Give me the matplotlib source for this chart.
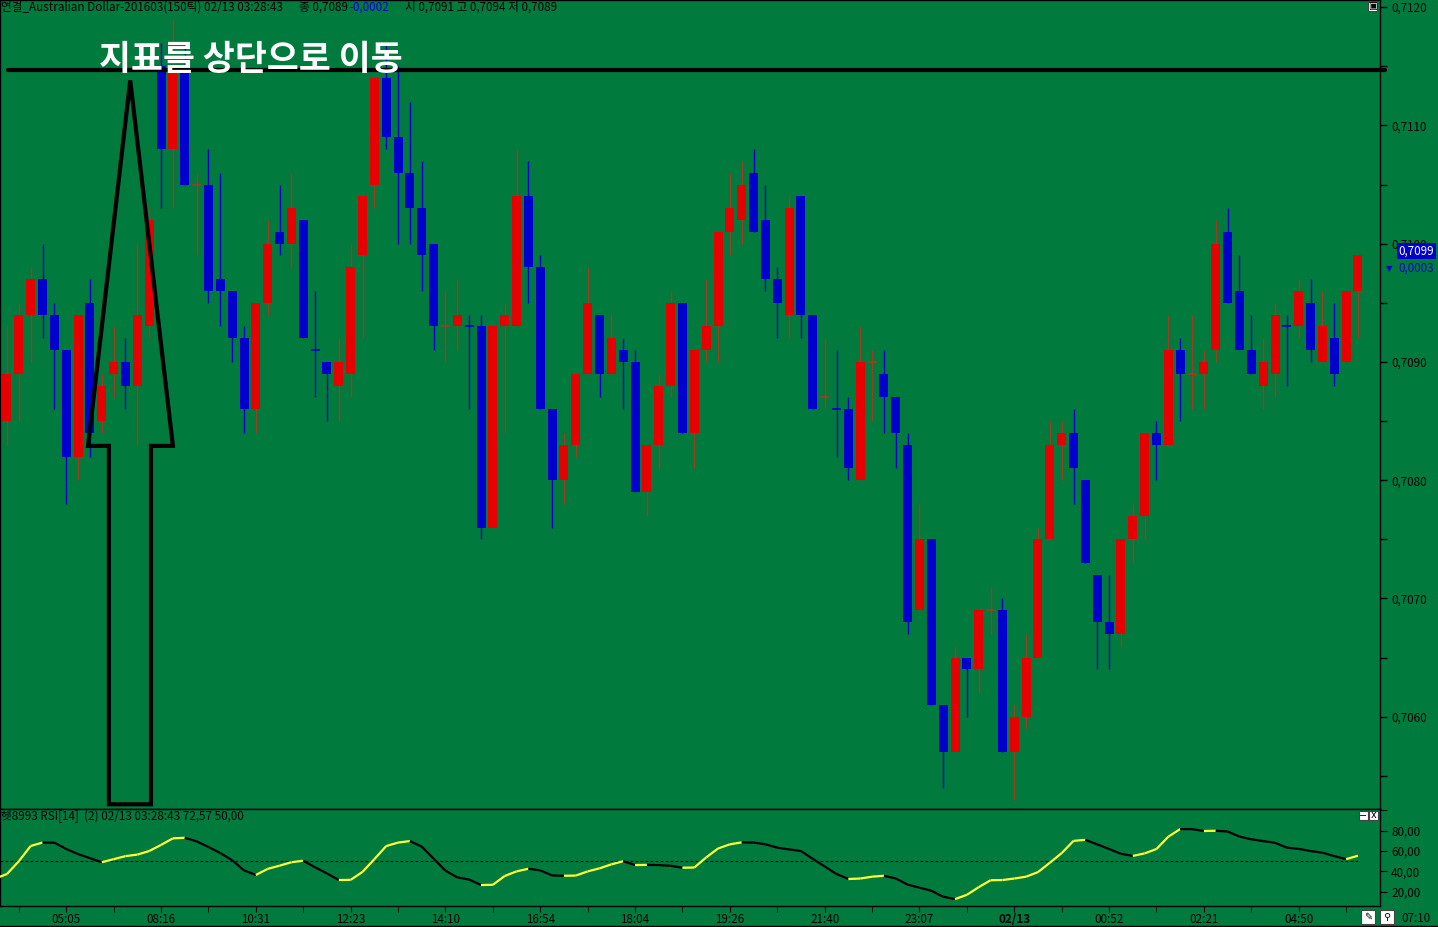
import numpy as np
import matplotlib
matplotlib.use("Agg")
import matplotlib.pyplot as plt
from matplotlib.collections import LineCollection
from matplotlib.patches import Polygon, Rectangle
from matplotlib.ticker import FuncFormatter, MultipleLocator, FixedLocator

plt.rcParams['font.family'] = ['Noto Sans CJK KR', 'DejaVu Sans']
FS = 8.4

# 150-tick AUD candles, prices in pips (0.0001)
opens = [7085, 7089, 7094, 7097, 7094, 7091, 7082, 7095, 7085, 7089,
         7090, 7088, 7093, 7115, 7108, 7115, 7105, 7105, 7097, 7096,
         7092, 7086, 7095, 7101, 7100, 7102, 7091, 7090, 7088, 7089,
         7099, 7105, 7114, 7109, 7106, 7103, 7100, 7093, 7093, 7093,
         7093, 7076, 7093, 7093, 7104, 7098, 7086, 7080, 7083, 7089,
         7094, 7089, 7091, 7090, 7079, 7083, 7088, 7095, 7084, 7091,
         7093, 7101, 7102, 7106, 7102, 7097, 7094, 7104, 7094, 7087,
         7086, 7086, 7080, 7090, 7089, 7087, 7083, 7069, 7075, 7061,
         7057, 7065, 7064, 7069, 7069, 7057, 7060, 7065, 7075, 7083,
         7084, 7080, 7072, 7068, 7067, 7075, 7077, 7084, 7083, 7091,
         7089, 7089, 7091, 7101, 7096, 7091, 7088, 7089, 7093, 7093,
         7095, 7090, 7092, 7090, 7096]
highs = [7093, 7095, 7098, 7100, 7095, 7091, 7094, 7097, 7089, 7093,
         7092, 7100, 7103, 7117, 7119, 7117, 7106, 7108, 7106, 7096,
         7093, 7095, 7102, 7105, 7106, 7102, 7096, 7090, 7092, 7100,
         7104, 7114, 7117, 7115, 7112, 7107, 7100, 7096, 7097, 7094,
         7094, 7093, 7095, 7108, 7107, 7099, 7086, 7084, 7089, 7098,
         7094, 7094, 7092, 7091, 7083, 7089, 7096, 7095, 7091, 7097,
         7101, 7106, 7107, 7108, 7105, 7098, 7104, 7104, 7094, 7092,
         7091, 7087, 7093, 7091, 7091, 7087, 7084, 7078, 7075, 7061,
         7066, 7065, 7069, 7071, 7070, 7061, 7067, 7076, 7085, 7085,
         7086, 7080, 7072, 7072, 7075, 7078, 7084, 7085, 7094, 7092,
         7094, 7091, 7102, 7103, 7099, 7094, 7092, 7095, 7094, 7097,
         7097, 7096, 7095, 7096, 7099]
lows = [7083, 7085, 7090, 7092, 7086, 7078, 7080, 7082, 7084, 7087,
        7086, 7083, 7092, 7103, 7103, 7105, 7099, 7095, 7093, 7090,
        7084, 7084, 7094, 7099, 7098, 7092, 7087, 7085, 7085, 7087,
        7092, 7103, 7108, 7100, 7100, 7096, 7091, 7090, 7091, 7086,
        7075, 7076, 7084, 7093, 7095, 7086, 7076, 7078, 7082, 7089,
        7087, 7089, 7086, 7079, 7077, 7081, 7087, 7084, 7081, 7090,
        7090, 7099, 7100, 7101, 7096, 7092, 7092, 7092, 7086, 7086,
        7082, 7080, 7080, 7085, 7084, 7081, 7067, 7069, 7061, 7054,
        7057, 7060, 7062, 7067, 7057, 7053, 7059, 7065, 7075, 7080,
        7078, 7073, 7064, 7064, 7066, 7073, 7075, 7080, 7083, 7085,
        7086, 7086, 7090, 7095, 7091, 7089, 7086, 7087, 7088, 7092,
        7090, 7090, 7088, 7090, 7092]
closes = [7089, 7094, 7097, 7094, 7091, 7082, 7094, 7084, 7088, 7090,
          7088, 7094, 7102, 7108, 7115, 7105, 7105, 7096, 7096, 7092,
          7086, 7095, 7100, 7100, 7103, 7092, 7091, 7089, 7090, 7098,
          7104, 7114, 7109, 7106, 7103, 7099, 7093, 7093, 7094, 7093,
          7076, 7093, 7094, 7104, 7098, 7086, 7080, 7083, 7089, 7095,
          7089, 7092, 7090, 7079, 7083, 7088, 7095, 7084, 7091, 7093,
          7101, 7103, 7105, 7101, 7097, 7095, 7103, 7094, 7086, 7087,
          7086, 7081, 7090, 7090, 7087, 7084, 7068, 7075, 7061, 7057,
          7065, 7064, 7069, 7069, 7057, 7060, 7065, 7075, 7083, 7084,
          7081, 7073, 7068, 7067, 7075, 7077, 7084, 7083, 7091, 7089,
          7089, 7090, 7100, 7095, 7091, 7089, 7090, 7094, 7093, 7096,
          7091, 7093, 7089, 7096, 7099]

# RSI(14), first value belongs to the bar just left of the window
rsi = [33, 37.4, 50, 65, 68.3, 68.2, 62, 57, 53, 49,
       52, 55, 56.5, 60, 66, 72.5, 73, 69.5, 64, 58,
       51, 41, 36.5, 42.5, 45.6, 49, 50.5, 44, 38, 31.5,
       31.7, 39.5, 52, 64.9, 68.3, 69.8, 64.3, 52.5, 40.7, 34.1,
       32, 26.6, 26.8, 35.5, 40, 42.6, 41, 36, 35.7, 35.9,
       40, 43, 46.9, 50, 46.2, 46.4, 46.2, 45.5, 43.6, 43.8,
       53.7, 62.5, 66.6, 68.5, 68.4, 66.6, 63.3, 61.6, 60, 52.3,
       44.8, 37.4, 32.5, 33, 34.8, 35.7, 33, 27, 24, 21,
       15.1, 12.8, 17, 24.5, 31.3, 31.5, 33, 34.8, 39.3, 48.5,
       58, 70, 71, 66.5, 62, 57.3, 55.2, 57.7, 62, 74.1,
       81.6, 81.5, 79.7, 79.9, 79.2, 74.2, 71.5, 69.8, 68.1, 63.3,
       62.1, 60, 58.4, 55, 52, 55.4]

time_labels = ['05:05', '08:16', '10:31', '12:23', '14:10', '16:54', '18:04',
               '19:26', '21:40', '23:07', '02/13', '00:52', '02:21', '04:50']

W, H = 1438, 927
BG = '#007a3d'
RED = '#e60000'
BLUE = '#0000cc'
RED_WICK = '#a23c1e'


def fx(px):
    return px / W


def fy(py):
    return 1 - py / H


o = np.array(opens) / 10000
h = np.array(highs) / 10000
l = np.array(lows) / 10000
c = np.array(closes) / 10000
idx = np.arange(len(o))

fig = plt.figure(figsize=(W / 100, H / 100), dpi=100, facecolor=BG)
ax = fig.add_axes([0, fy(809), fx(1380), 809 / H])
ax2 = fig.add_axes([0, fy(906), fx(1380), 97 / H])

# ---- price panel
ax.set_facecolor(BG)
ax.set_xlim(-0.59, 115.86)
ax.set_ylim(0.70522, 0.71206)

prev = np.concatenate([[o[0]], c[:-1]])
up = (c > o) | ((c == o) & (c >= prev))
body_col = np.where(up, RED, BLUE)
wick_col = np.where(up, RED_WICK, BLUE)

ax.vlines(idx, l, h, colors=wick_col, lw=1, zorder=2)
body = c - o
solid = body != 0
ax.bar(idx[solid], body[solid], bottom=o[solid], width=0.76,
       color=body_col[solid], linewidth=0, zorder=3)
ax.hlines(c[~solid], idx[~solid] - 0.38, idx[~solid] + 0.38,
          colors=wick_col[~solid], lw=1.2, zorder=3)

ax.yaxis.tick_right()
ax.yaxis.set_major_locator(MultipleLocator(0.001))
ax.yaxis.set_minor_locator(MultipleLocator(0.0005))
ax.yaxis.set_major_formatter(FuncFormatter(lambda v, p: f'{v:.4f}'.replace('.', ',')))
ax.tick_params(axis='y', which='both', direction='out', length=5, width=1,
               colors='black', labelsize=FS, pad=3)
ax.tick_params(axis='x', which='both', bottom=False, labelbottom=False)
for s in ax.spines.values():
    s.set_color('black')
    s.set_linewidth(1)

# annotation: line, text, big arrow
ax.plot([0.08, 116.3], [0.71147, 0.71147], color='black', lw=3,
        clip_on=False, solid_capstyle='round', zorder=6)
ax.text(20.6, 0.71156, '지표를 상단으로 이동', color='white', fontsize=25,
        fontweight='bold', ha='center', va='center', zorder=7)
arrow = Polygon([(10.4, 0.71138), (14.0, 0.70829), (12.15, 0.70829), (12.15, 0.70526),
                 (8.6, 0.70526), (8.6, 0.70829), (6.84, 0.70829)],
                closed=True, fill=False, edgecolor='black', lw=3, joinstyle='miter', zorder=6)
ax.add_patch(arrow)

# last price tag
ytr = ax.get_yaxis_transform()
ax.text(1.0135, c[-1] + 0.00004, f'{c[-1]:.4f}'.replace('.', ','), transform=ytr,
        color='white', fontsize=FS, va='center', ha='left', zorder=8,
        bbox=dict(boxstyle='square,pad=0.12', facecolor=BLUE, edgecolor='none'))
ax.annotate('▼', xy=(1.0, c[-1]), xycoords=ytr, xytext=(6, -13),
            textcoords='offset pixels', color=BLUE, fontsize=6,
            family=['DejaVu Sans'], va='center', ha='left', annotation_clip=False)
ax.annotate('0,0003', xy=(1.0, c[-1]), xycoords=ytr, xytext=(18, -13),
            textcoords='offset pixels', color=BLUE, fontsize=FS,
            va='center', ha='left', annotation_clip=False)

# ---- RSI panel
ax2.set_facecolor(BG)
ax2.set_xlim(-0.59, 115.86)
ax2.set_ylim(6, 101.3)
rx = np.arange(-1, len(rsi) - 1)
pts = np.column_stack([rx, rsi])
segs = np.stack([pts[:-1], pts[1:]], axis=1)
seg_col = ['#ffff33' if rsi[i + 1] > rsi[i] else 'black' for i in range(len(rsi) - 1)]
ax2.add_collection(LineCollection(segs, colors=seg_col, linewidths=1.6, zorder=3))
ax2.hlines(50, -0.6, idx[-1], colors='black', lw=0.8, linestyles=(0, (2.5, 2)), zorder=2)

ax2.yaxis.tick_right()
ax2.set_yticks([20, 40, 60, 80])
ax2.yaxis.set_minor_locator(FixedLocator([100]))
ax2.yaxis.set_major_formatter(FuncFormatter(lambda v, p: f'{v:.2f}'.replace('.', ',')))
ax2.tick_params(axis='y', which='both', direction='out', length=5, colors='black',
                labelsize=FS, pad=3)

major_pos = np.arange(5, len(o), 8)[:len(time_labels)]
ax2.set_xticks(major_pos)
ax2.set_xticklabels(time_labels)
ax2.xaxis.set_minor_locator(FixedLocator(np.arange(1, len(o), 8)))
ax2.tick_params(axis='x', which='both', direction='out', length=4, colors='black',
                labelsize=FS, pad=1)
for t in ax2.get_xticklabels():
    if t.get_text() == '02/13':
        t.set_fontweight('bold')
for s in ax2.spines.values():
    s.set_color('black')
    s.set_linewidth(1)

# ---- header texts
fig.text(fx(1), fy(7), '연결_Australian Dollar-201603(150틱) 02/13 03:28:43',
         fontsize=FS, va='center', ha='left')
fig.text(fx(299), fy(7), '종 0,7089', fontsize=FS, va='center', ha='left')
fig.text(fx(349), fy(7), '-0,0002', fontsize=FS, va='center', ha='left', color=BLUE)
fig.text(fx(405), fy(7), '시 0,7091 고 0,7094 저 0,7089', fontsize=FS, va='center', ha='left')
fig.text(fx(1), fy(816), '헷8993 RSI[14]  (2) 02/13 03:28:43 72,57 50,00',
         fontsize=FS, va='center', ha='left')
fig.text(fx(1416), fy(918), '07:10', fontsize=FS, va='center', ha='center')


# small window buttons
def box(x0, y0, w, hgt, txt=''):
    fig.patches.append(Rectangle((fx(x0), fy(y0 + hgt)), w / W, hgt / H, transform=fig.transFigure,
                                 facecolor='white', edgecolor='#444444', lw=0.8))
    if txt:
        fig.text(fx(x0 + w / 2), fy(y0 + hgt / 2), txt, fontsize=7, ha='center', va='center',
                 family=['DejaVu Sans'])


box(1368, 2, 9, 9, '▣')
box(1359, 811, 9, 9, '−')
box(1369, 811, 9, 9, 'x')
box(1361, 910, 14, 14, '✎')
box(1380, 910, 14, 14, '⚲')

fig.patches.append(Rectangle((0, 0), 1, fy(925.5), transform=fig.transFigure,
                             fill=False, edgecolor='black', lw=1))

fig.savefig('out.png', dpi=100, facecolor=BG)
